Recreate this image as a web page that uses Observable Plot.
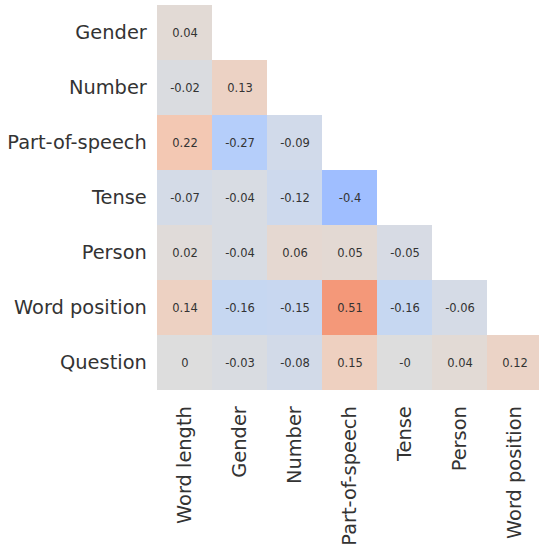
<!DOCTYPE html>
<html>
<head>
<meta charset="utf-8">
<script src="https://cdn.jsdelivr.net/npm/d3@7"></script>
<script src="https://cdn.jsdelivr.net/npm/@observablehq/plot@0.6"></script>
<style>
  html, body { margin: 0; padding: 0; background: #fff; overflow: hidden; }
  svg { overflow: hidden; }
</style>
</head>
<body>
<div id="chart"></div>
<script>
// Row (y) and column (x) categories
const rowLabels = ["Gender", "Number", "Part-of-speech", "Tense", "Person", "Word position", "Question"];
const colLabels = ["Word length", "Gender", "Number", "Part-of-speech", "Tense", "Person", "Word position"];

// Lower-triangle correlation values, one array per row
const genderVals = [0.04];
const numberVals = [-0.02, 0.13];
const posVals = [0.22, -0.27, -0.09];
const tenseVals = [-0.07, -0.04, -0.12, -0.4];
const personVals = [0.02, -0.04, 0.06, 0.05, -0.05];
const wordPosVals = [0.14, -0.16, -0.15, 0.51, -0.16, -0.06];
const questionVals = [0, -0.03, -0.08, 0.15, -0, 0.04, 0.12];

const rowValues = [genderVals, numberVals, posVals, tenseVals, personVals, wordPosVals, questionVals];

// Matplotlib "coolwarm" (Moreland) color table
const coolwarm = [
  [59,76,192],[68,90,204],[77,104,215],[87,117,225],[98,130,234],[108,142,241],[119,154,247],[130,165,251],
  [141,176,254],[152,185,255],[163,194,255],[174,201,253],[184,208,249],[194,213,244],[204,217,238],[213,219,230],
  [221,221,221],[229,216,209],[236,211,197],[241,204,185],[245,196,173],[247,187,160],[247,177,148],[247,166,135],
  [244,154,123],[241,141,111],[236,127,99],[229,112,88],[222,96,77],[213,80,66],[203,62,56],[192,40,47],[180,4,38]
];
const cwScale = d3.scaleLinear()
  .domain(coolwarm.map((_, i) => i / (coolwarm.length - 1)))
  .range(coolwarm.map(c => `rgb(${c[0]},${c[1]},${c[2]})`))
  .interpolate(d3.interpolateRgb)
  .clamp(true);

const data = [];
rowValues.forEach((vals, i) => {
  vals.forEach((v, j) => data.push({row: rowLabels[i], col: colLabels[j], v}));
});
const fmt = v => Object.is(v, -0) ? "-0" : String(v);

const chart = Plot.plot({
  width: 539,
  height: 546,
  marginLeft: 156.3,
  marginRight: -3.5,
  marginTop: 5,
  marginBottom: 155.3,
  style: {fontFamily: "DejaVu Sans, sans-serif", background: "#fff", color: "#333"},
  x: {domain: colLabels, padding: 0, label: null},
  y: {domain: rowLabels, padding: 0, label: null},
  color: {type: "linear", domain: [-1, 1], interpolate: t => cwScale(t)},
  marks: [
    Plot.cell(data, {x: "col", y: "row", fill: "v", inset: 0}),
    Plot.text(data, {x: "col", y: "row", text: d => fmt(d.v), fontSize: 11.5, fill: "#333"}),
    Plot.axisX({tickRotate: -90, tickSize: 0, tickPadding: 15, fontSize: 19.4, fill: "#333", label: null}),
    Plot.axisY({tickSize: 0, tickPadding: 10, fontSize: 19.4, fill: "#333", label: null})
  ]
});
document.getElementById("chart").appendChild(chart);
</script>
</body>
</html>
